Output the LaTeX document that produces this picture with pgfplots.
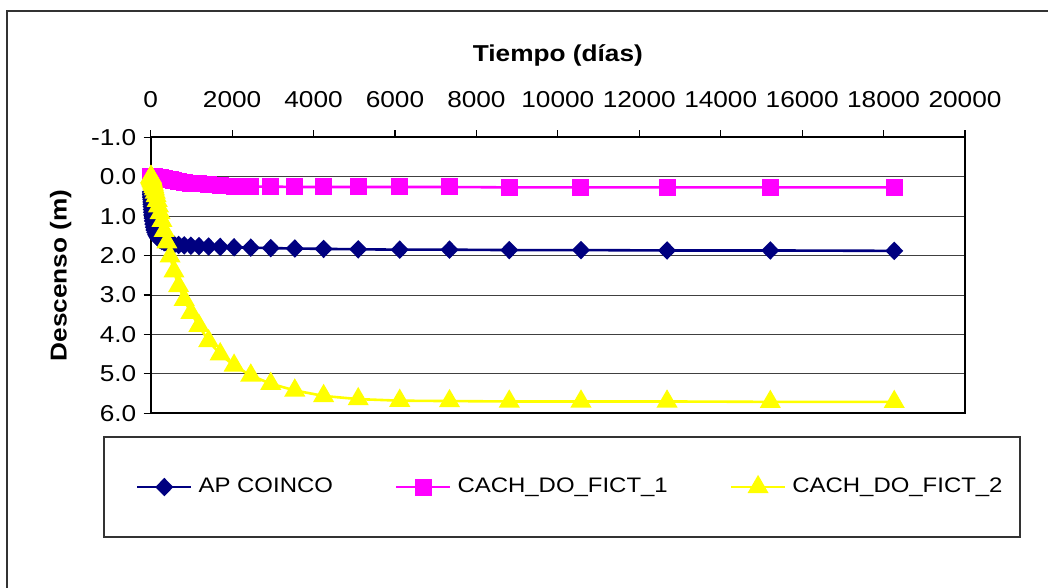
\documentclass[border=0pt]{standalone}
\usepackage{pgfplots}
\pgfplotsset{compat=1.18}
\usepackage{pgfplotstable}
\usepackage{fontspec}
\setmainfont{Liberation Sans}[FakeStretch=1.14]

\definecolor{apblue}{RGB}{0,0,128}
\definecolor{fictpink}{RGB}{255,0,255}
\definecolor{fictyellow}{RGB}{255,255,0}

% t (dias), AP COINCO, CACH_DO_FICT_1, CACH_DO_FICT_2
\pgfplotstableread{
t      ap    f1    f2
5.0    0.38  0.00  0.00
6.0    0.41  0.00  0.01
7.2    0.45  0.00  0.01
8.6    0.49  0.00  0.01
10     0.53  0.00  0.02
12     0.58  0.00  0.02
15     0.64  0.00  0.03
18     0.70  0.00  0.04
21     0.76  0.00  0.05
26     0.83  0.00  0.07
31     0.90  0.00  0.09
37     0.97  0.00  0.11
45     1.05  0.00  0.14
53     1.12  0.00  0.17
64     1.20  0.00  0.21
77     1.28  0.00  0.26
92     1.35  0.00  0.32
111    1.41  0.01  0.40
133    1.47  0.01  0.49
160    1.52  0.01  0.61
191    1.56  0.02  0.75
230    1.60  0.03  0.92
276    1.63  0.04  1.12
331    1.66  0.05  1.37
397    1.68  0.06  1.66
476    1.70  0.08  2.02
572    1.72  0.10  2.40
686    1.73  0.12  2.77
823    1.74  0.14  3.12
988    1.75  0.16  3.45
1185   1.76  0.18  3.78
1422   1.77  0.20  4.17
1707   1.78  0.22  4.50
2048   1.79  0.24  4.79
2458   1.80  0.25  5.04
2949   1.81  0.25  5.25
3539   1.82  0.26  5.42
4247   1.83  0.26  5.56
5097   1.84  0.26  5.64
6116   1.85  0.26  5.68
7339   1.85  0.26  5.69
8807   1.86  0.27  5.70
10568  1.86  0.27  5.70
12682  1.87  0.27  5.70
15218  1.87  0.27  5.71
18262  1.88  0.27  5.71
}\descenso

\begin{document}
\fontsize{10.5}{12.6}\selectfont
\begin{tikzpicture}
\path[use as bounding box] (0,0) rectangle (524pt,294pt);
% marco exterior y caja de la leyenda
\draw[black!80, line width=0.8pt] (3.5pt,-10pt) -- (3.5pt,288.5pt) -- (540pt,288.5pt);
\draw[black!80, line width=0.6pt] (52pt,25.5pt) rectangle (510pt,75.5pt);
\begin{axis}[
  at={(75.35pt,87.35pt)}, anchor=south west,
  scale only axis, width=407.15pt, height=138pt,
  xmin=0, xmax=20000, ymin=-1, ymax=6, y dir=reverse,
  xtick={0,2000,...,20000}, ytick={-1,0,...,6},
  xtick pos=right, xticklabel pos=right, ytick pos=left,
  tick align=outside, major tick length=3.5pt,
  tick style={black, line width=0.6pt},
  tick label style={font=\fontsize{11.5}{13.8}\selectfont},
  scaled x ticks=false,
  x tick label style={/pgf/number format/1000 sep={}, yshift=7.5pt},
  y tick label style={/pgf/number format/.cd, fixed, fixed zerofill, precision=1},
  /pgf/number format/assume math mode=true,
  ymajorgrids, grid style={black!75, line width=0.5pt},
  axis line style={black, line width=1.1pt},
  clip=false,
  xlabel={\bfseries Tiempo (días)},
  ylabel={\bfseries Descenso (m)},
  label style={font=\fontsize{11.5}{13.8}\selectfont},
  xlabel style={at={([yshift=38pt]axis description cs:0.5,1)}, anchor=base},
  ylabel style={at={([xshift=-45pt]axis description cs:0,0.5)}, anchor=center},
  legend columns=3,
  legend style={at={(-0.018,-0.266)}, anchor=west, draw=none, fill=none,
    inner sep=0pt, outer sep=0pt, nodes={inner sep=0pt},
    /tikz/every odd column/.style={column sep=3pt},
    /tikz/every even column/.style={column sep=31pt}},
  legend image code/.code={\draw[mark repeat=2, mark phase=2] plot coordinates {(0pt,0pt)(13.5pt,0pt)(27pt,0pt)};},
]
\addplot[apblue, line width=1.3pt, mark=diamond*, mark size=3.7pt, mark options={solid, xscale=1.3}]
  table[x=t, y=ap] {\descenso};
\addlegendentry{AP COINCO}
\addplot[fictpink, line width=1.3pt, mark=square*, mark size=3.6pt, mark options={solid}]
  table[x=t, y=f1] {\descenso};
\addlegendentry{CACH\_DO\_FICT\_1}
\addplot[fictyellow, line width=1.3pt, mark=triangle*, mark size=4.8pt, mark options={solid}]
  table[x=t, y=f2] {\descenso};
\addlegendentry{CACH\_DO\_FICT\_2}
\end{axis}
\end{tikzpicture}
\end{document}
